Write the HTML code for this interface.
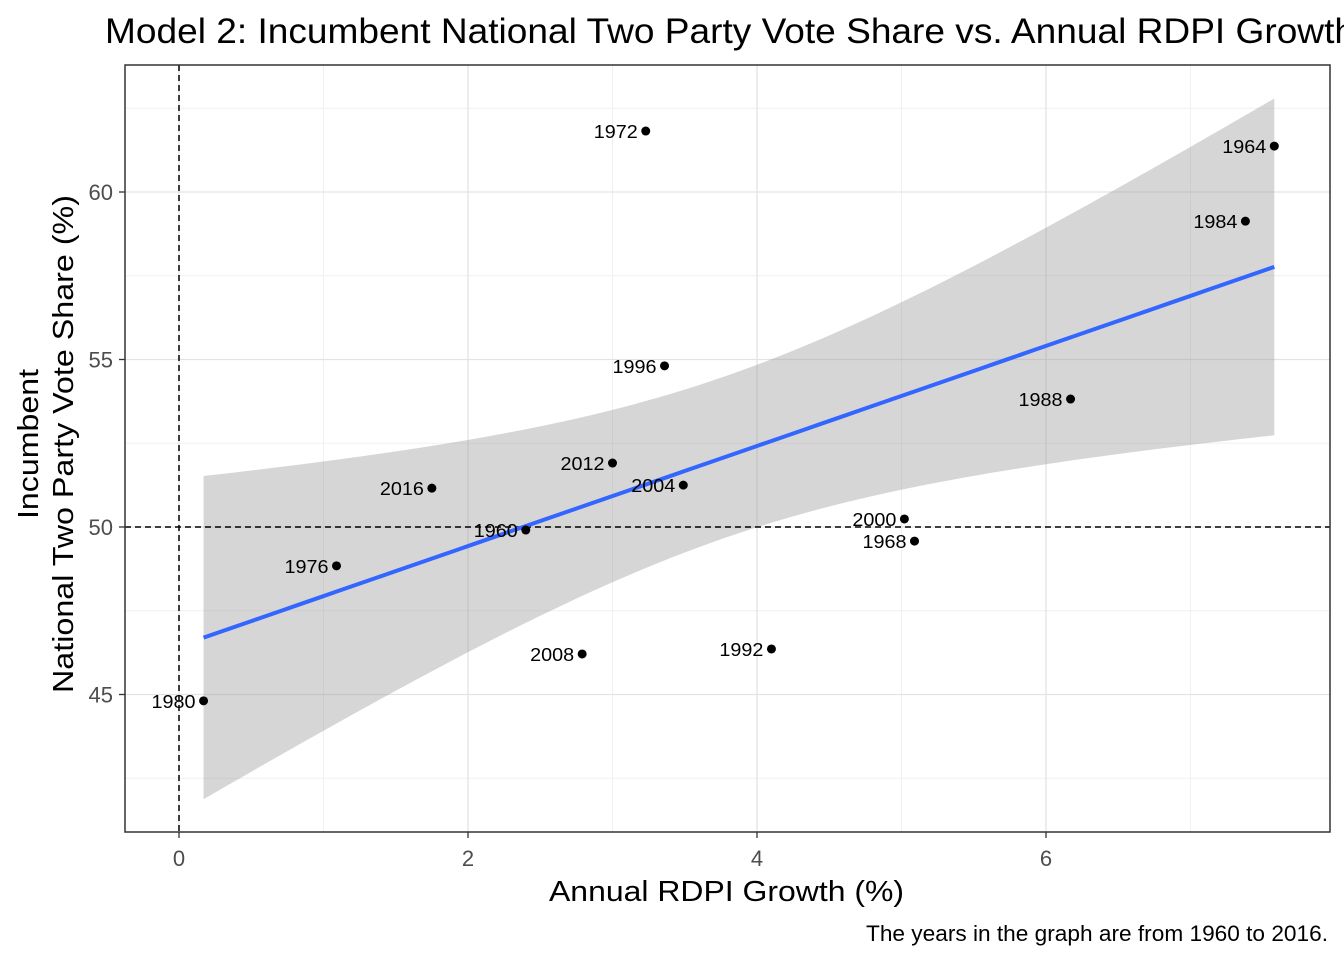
<!DOCTYPE html>
<html><head><meta charset="utf-8">
<style>
html,body{margin:0;padding:0;background:#fff;overflow:hidden;}
svg{display:block;font-family:"Liberation Sans",Arial,sans-serif;}
</style></head>
<body>
<svg id="chart" width="1344" height="960" viewBox="0 0 1344 960">
<text x="105" y="43" font-size="35" fill="#000" textLength="1250" lengthAdjust="spacingAndGlyphs">Model 2: Incumbent National Two Party Vote Share vs. Annual RDPI Growth</text>
<rect x="125" y="65" width="1205" height="767" fill="#fff"/>
<g id="grid"></g>
<g id="band"></g>
<g id="refs"></g>
<g id="line"></g>
<g id="pts"></g>
<rect x="125" y="65" width="1205" height="767" fill="none" stroke="#333" stroke-width="1.5"/>
<g id="axes"></g>
<text x="549" y="901" font-size="29" textLength="355" lengthAdjust="spacingAndGlyphs" fill="#000">Annual RDPI Growth (%)</text>
<g transform="translate(38,444) rotate(-90)">
<text x="0" y="0" font-size="29" text-anchor="middle" textLength="150" lengthAdjust="spacingAndGlyphs" fill="#000">Incumbent</text>
<text x="0" y="35" font-size="29" text-anchor="middle" textLength="498" lengthAdjust="spacingAndGlyphs" fill="#000">National Two Party Vote Share (%)</text>
</g>
<text x="866" y="941" font-size="22" textLength="462" lengthAdjust="spacingAndGlyphs" fill="#000">The years in the graph are from 1960 to 2016.</text>
</svg>
<script>
const years=["1972","1964","1984","1996","1988","2012","2016","2004","1960","2000","1968","1976","2008","1992","1980"];
const growth=[3.23,7.58,7.38,3.36,6.17,3.00,1.75,3.49,2.40,5.02,5.09,1.09,2.79,4.10,0.17];
const vote=[61.82,61.37,59.13,54.81,53.82,51.91,51.16,51.25,49.91,50.24,49.58,48.84,46.21,46.36,44.81];
const xTicks=[0,2,4,6];
const yTicks=[45,50,55,60];
const xMinor=[1,3,5,7];
const yMinor=[42.5,47.5,52.5,57.5,62.5];
const NS="http://www.w3.org/2000/svg";
const L=125,R=1330,T=65,B=832;
const sx=v=>179+v*144.5;
const sy=v=>527-(v-50)*33.5;
function mk(tag,attrs,parent){const e=document.createElementNS(NS,tag);for(const k in attrs)e.setAttribute(k,attrs[k]);document.getElementById(parent).appendChild(e);return e;}
xMinor.forEach(v=>{const e=mk('line',{x1:sx(v),x2:sx(v),y1:T,y2:B,stroke:'#f0f0f0','stroke-width':1},'grid');

});
yMinor.forEach(v=>{const e=mk('line',{x1:L,x2:R,y1:sy(v),y2:sy(v),stroke:'#f0f0f0','stroke-width':1},'grid');

});
xTicks.forEach(v=>{const e=mk('line',{x1:sx(v),x2:sx(v),y1:T,y2:B,stroke:'#e3e3e3','stroke-width':1.3},'grid');


const t=mk('text',{x:sx(v),y:866,'font-size':22,'text-anchor':'middle',fill:'#4d4d4d'},'axes');t.textContent=v;


mk('line',{x1:sx(v),x2:sx(v),y1:B,y2:B+6,stroke:'#333','stroke-width':1.3},'axes');});
yTicks.forEach(v=>{const e=mk('line',{x1:L,x2:R,y1:sy(v),y2:sy(v),stroke:'#e3e3e3','stroke-width':1.3},'grid');


const t=mk('text',{x:113,y:sy(v)+8,'font-size':22,'text-anchor':'end',fill:'#4d4d4d'},'axes');t.textContent=v;


mk('line',{x1:L-6,x2:L,y1:sy(v),y2:sy(v),stroke:'#333','stroke-width':1.3},'axes');});
const n=growth.length;const mx=growth.reduce((a,b)=>a+b)/n,my=vote.reduce((a,b)=>a+b)/n;
let sxx=0,sxy=0;for(let i=0;i<n;i++){sxx+=(growth[i]-mx)**2;sxy+=(growth[i]-mx)*(vote[i]-my);}
const b1=sxy/sxx,b0=my-b1*mx;let sse=0;for(let i=0;i<n;i++)sse+=(vote[i]-b0-b1*growth[i])**2;
const s=Math.sqrt(sse/(n-2)),tq=2.160;
const xmin=Math.min(...growth),xmax=Math.max(...growth);
let up=[],lo=[],ln=[];
for(let k=0;k<=80;k++){const x=xmin+(xmax-xmin)*k/80;const f=b0+b1*x;const se=s*Math.sqrt(1/n+(x-mx)**2/sxx);
up.push(sx(x)+','+sy(f+tq*se));lo.push(sx(x)+','+sy(f-tq*se));ln.push(sx(x)+','+sy(f));}
const band=mk('polygon',{points:up.concat(lo.reverse()).join(' '),fill:'#999',opacity:0.4},'band');


const fl=mk('polyline',{points:ln.join(' '),fill:'none',stroke:'#3366ff','stroke-width':4},'line');


const r1=mk('line',{x1:sx(0),x2:sx(0),y1:T,y2:B,stroke:'#000','stroke-width':1.5,'stroke-dasharray':'6,4'},'refs');


const r2=mk('line',{x1:L,x2:R,y1:sy(50),y2:sy(50),stroke:'#000','stroke-width':1.5,'stroke-dasharray':'6,4'},'refs');


for(let i=0;i<n;i++){
const c=mk('circle',{cx:sx(growth[i]),cy:sy(vote[i]),r:4.5,fill:'#000'},'pts');


const t=mk('text',{x:sx(growth[i])-8,y:sy(vote[i])+7,'font-size':18,'text-anchor':'end',fill:'#000',textLength:44,lengthAdjust:'spacingAndGlyphs'},'pts');t.textContent=years[i];

}
</script>
</body></html>
